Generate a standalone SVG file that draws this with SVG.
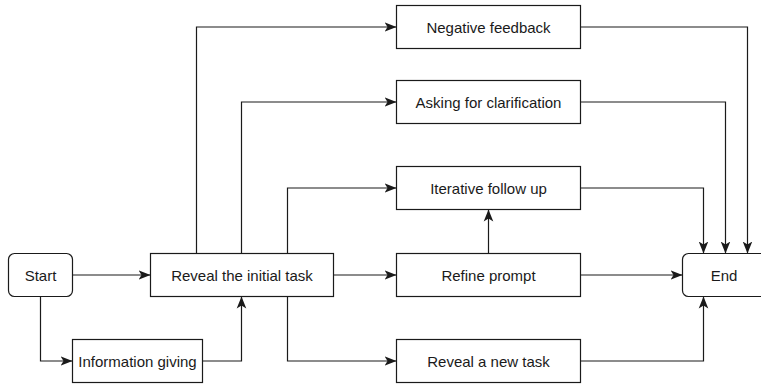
<svg xmlns="http://www.w3.org/2000/svg" width="761" height="387" viewBox="0 0 761 387">
<style>
.box{fill:#fff;stroke:#1a1a1a;stroke-width:1.2}
.lbl{font-family:"Liberation Sans",Arial,sans-serif;font-size:15px;fill:#1a1a1a;text-anchor:middle}
.edge{fill:none;stroke:#1a1a1a;stroke-width:1.2;marker-end:url(#arr)}
</style>
<defs>
<marker id="arr" markerUnits="userSpaceOnUse" markerWidth="12" markerHeight="12" viewBox="0 0 10 10" refX="10" refY="5" orient="auto">
<path d="M0,1 L10,5 L0,9 L2.5,5 Z" fill="#1a1a1a"/>
</marker>
</defs>
<g id="connectors">
<path class="edge" d="M72.5,275 H150.5"/>
<path class="edge" d="M40.5,296.5 V361 H72.5"/>
<path class="edge" d="M202.5,361 H241.5 V296.5"/>
<path class="edge" d="M196.5,253.5 V27 H396.5"/>
<path class="edge" d="M241.5,253.5 V102 H396.5"/>
<path class="edge" d="M287.5,253.5 V188 H396.5"/>
<path class="edge" d="M333.5,275 H396.5"/>
<path class="edge" d="M287.5,296.5 V361 H396.5"/>
<path class="edge" d="M488.5,253.5 V209.5"/>
<path class="edge" d="M580.5,275 H682.5"/>
<path class="edge" d="M580.5,361 H703.5 V296.5"/>
<path class="edge" d="M580.5,188 H703.5 V253.5"/>
<path class="edge" d="M580.5,102 H725.5 V253.5"/>
<path class="edge" d="M580.5,27 H747.5 V253.5"/>
</g>
<g id="start"><rect class="box" x="8.5" y="253.5" width="64" height="43" rx="6"/><text class="lbl" x="40.5" y="280.5">Start</text></g>
<g id="reveal-initial"><rect class="box" x="150.5" y="253.5" width="183" height="43"/><text class="lbl" x="242" y="280.5">Reveal the initial task</text></g>
<g id="info-giving"><rect class="box" x="72.5" y="339.5" width="130" height="43"/><text class="lbl" x="137.5" y="366.5">Information giving</text></g>
<g id="negative"><rect class="box" x="396.5" y="5.5" width="184" height="43"/><text class="lbl" x="488.5" y="32.5">Negative feedback</text></g>
<g id="asking"><rect class="box" x="396.5" y="80.5" width="184" height="43"/><text class="lbl" x="488.5" y="107.5">Asking for clarification</text></g>
<g id="iterative"><rect class="box" x="396.5" y="166.5" width="184" height="43"/><text class="lbl" x="488.5" y="193.5">Iterative follow up</text></g>
<g id="refine"><rect class="box" x="396.5" y="253.5" width="184" height="43"/><text class="lbl" x="488.5" y="280.5">Refine prompt</text></g>
<g id="reveal-new"><rect class="box" x="396.5" y="339.5" width="184" height="43"/><text class="lbl" x="488.5" y="366.5">Reveal a new task</text></g>
<g id="end"><rect class="box" x="682.5" y="253.5" width="86" height="43" rx="6"/><text class="lbl" x="724" y="280.5">End</text></g>
</svg>
